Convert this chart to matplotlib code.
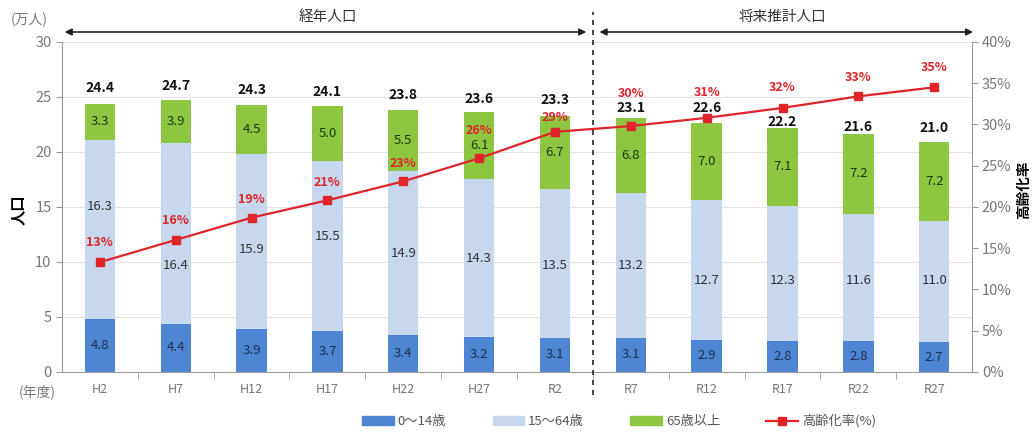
import matplotlib
matplotlib.use('Agg')
import matplotlib.pyplot as plt
import matplotlib.transforms as mtransforms
from matplotlib.patches import Patch
from matplotlib.lines import Line2D
from matplotlib.ticker import FuncFormatter

plt.rcParams['font.family'] = ['Noto Sans CJK JP', 'DejaVu Sans']

# データ
years = ['H2', 'H7', 'H12', 'H17', 'H22', 'H27', 'R2', 'R7', 'R12', 'R17', 'R22', 'R27']
age_0_14 = [4.8, 4.4, 3.9, 3.7, 3.4, 3.2, 3.1, 3.1, 2.9, 2.8, 2.8, 2.7]
age_15_64 = [16.3, 16.4, 15.9, 15.5, 14.9, 14.3, 13.5, 13.2, 12.7, 12.3, 11.6, 11.0]
age_65 = [3.3, 3.9, 4.5, 5.0, 5.5, 6.1, 6.7, 6.8, 7.0, 7.1, 7.2, 7.2]
totals = [24.4, 24.7, 24.3, 24.1, 23.8, 23.6, 23.3, 23.1, 22.6, 22.2, 21.6, 21.0]
aging_rate = [13.3, 16.0, 18.7, 20.8, 23.1, 25.9, 29.1, 29.8, 30.8, 32.0, 33.4, 34.5]
rate_labels = ['13%', '16%', '19%', '21%', '23%', '26%', '29%', '30%', '31%', '32%', '33%', '35%']

# ラベルの位置調整（線と重ならないように）
mid_label_y = [15.0, 9.7, 11.1, 12.3, 10.8, 10.3, 9.7, 9.7, 8.3, 8.3, 8.3, 8.3]
rate_label_dy = [20, 19, 18, 18, 18, 28, 14, 33, 25, 20, 19, 20]   # px
total_label_dy = [16, 14, 15, 15, 15, 13, 16, 10, 15, 6, 7, 13]   # px

c_young = '#4F86D4'
c_work = '#C6D7EE'
c_old = '#8DC641'
c_red = '#E0242A'
c_gray = '#777777'

fig = plt.figure(figsize=(10.32, 4.32), dpi=100)
ax = fig.add_axes([0.060, 0.139, 0.882, 0.764])
x = list(range(len(years)))
w = 0.40

ax.bar(x, age_0_14, w, color=c_young, zorder=2)
bottom2 = age_0_14
ax.bar(x, age_15_64, w, bottom=bottom2, color=c_work, zorder=2)
bottom3 = [a + b for a, b in zip(age_0_14, age_15_64)]
ax.bar(x, age_65, w, bottom=bottom3, color=c_old, zorder=2)

for i in x:
    ax.text(i, age_0_14[i] / 2, '%.1f' % age_0_14[i], ha='center', va='center',
            fontsize=9.5, color='#1F3050', zorder=4)
    ax.text(i, mid_label_y[i], '%.1f' % age_15_64[i], ha='center', va='center',
            fontsize=9.5, color='#333333', zorder=4)
    ax.text(i, bottom3[i] + age_65[i] / 2, '%.1f' % age_65[i], ha='center', va='center',
            fontsize=9.5, color='#1E3A10', zorder=4)
    ax.annotate('%.1f' % totals[i], (i, totals[i]), xytext=(0, total_label_dy[i] * 0.72),
                textcoords='offset points', ha='center', va='center',
                fontsize=10, fontweight='bold', color='#111111', zorder=4)

ax.set_xlim(-0.5, len(years) - 0.5)
ax.set_ylim(0, 30)
ax.set_yticks(range(0, 31, 5))
ax.set_xticks(x)
ax.set_xticklabels(years, color=c_gray, fontsize=9)
ax.set_xticks([i + 0.5 for i in x[:-1]], minor=True)
ax.tick_params(axis='x', which='major', length=0, pad=8)
ax.tick_params(axis='x', which='minor', length=5, color='#999999', direction='out')
ax.tick_params(axis='y', colors=c_gray, labelsize=10.5, length=4, color='#999999')
ax.yaxis.grid(True, color='#E2E2E2', linewidth=0.8, zorder=0)
ax.set_axisbelow(True)
for s in ['top', 'right']:
    ax.spines[s].set_visible(False)
ax.spines['left'].set_color('#999999')
ax.spines['bottom'].set_color('#999999')

# 右軸 高齢化率
ax2 = ax.twinx()
ax2.set_ylim(0, 40)
ax2.set_yticks(range(0, 41, 5))
ax2.yaxis.set_major_formatter(FuncFormatter(lambda v, p: '%d%%' % v))
ax2.tick_params(axis='y', colors=c_gray, labelsize=10.5, length=4, color='#999999', pad=3)
for s in ['top', 'left', 'bottom']:
    ax2.spines[s].set_visible(False)
ax2.spines['right'].set_color('#999999')
ax2.plot(x, aging_rate, color=c_red, marker='s', markersize=6, linewidth=1.6, zorder=5)
for i in x:
    ax2.annotate(rate_labels[i], (i, aging_rate[i]), xytext=(0, rate_label_dy[i] * 0.72),
                 textcoords='offset points', ha='center', va='center',
                 fontsize=9, fontweight='bold', color=c_red, zorder=6)

fig.text(0.017, 0.514, '人口', rotation=90, ha='center', va='center', fontsize=11, fontweight='bold')
fig.text(0.991, 0.56, '高齢化率', rotation=90, ha='center', va='center', fontsize=10.5, fontweight='bold')

# 経年 / 将来推計 の区切り
trans = mtransforms.blended_transform_factory(ax.transData, ax.transAxes)
ax.plot([6.5, 6.5], [-0.07, 1.09], transform=trans, color='#222222', linestyle=(0, (3, 3)),
        linewidth=1.2, clip_on=False, zorder=7)
ax.annotate('', xy=(-0.5, 1.03), xytext=(6.45, 1.03), xycoords=trans, textcoords=trans,
            arrowprops=dict(arrowstyle='<|-|>', color='#222222', lw=1.2, mutation_scale=10))
ax.annotate('', xy=(6.55, 1.03), xytext=(11.55, 1.03), xycoords=trans, textcoords=trans,
            arrowprops=dict(arrowstyle='<|-|>', color='#222222', lw=1.2, mutation_scale=10))
ax.text(3.0, 1.075, '経年人口', transform=trans, ha='center', va='center', fontsize=10.5, color='#333333')
ax.text(9.0, 1.075, '将来推計人口', transform=trans, ha='center', va='center', fontsize=10.5, color='#333333')

fig.text(0.028, 0.953, '(万人)', ha='center', va='center', fontsize=10, color=c_gray)
fig.text(0.036, 0.093, '(年度)', ha='center', va='center', fontsize=10, color=c_gray)

handles = [Patch(color=c_young), Patch(color=c_work), Patch(color=c_old),
           Line2D([0], [0], color=c_red, marker='s', markersize=6, linewidth=1.6)]
names = ['0～14歳', '15～64歳', '65歳以上', '高齢化率(%)']
fig.legend(handles, names, loc='center', bbox_to_anchor=(0.6, 0.025), ncol=4, frameon=False,
           fontsize=9.5, handlelength=2.4, handleheight=0.6, columnspacing=3.5, handletextpad=0.3,
           labelcolor='#555555')

fig.savefig('out.png', dpi=100)
